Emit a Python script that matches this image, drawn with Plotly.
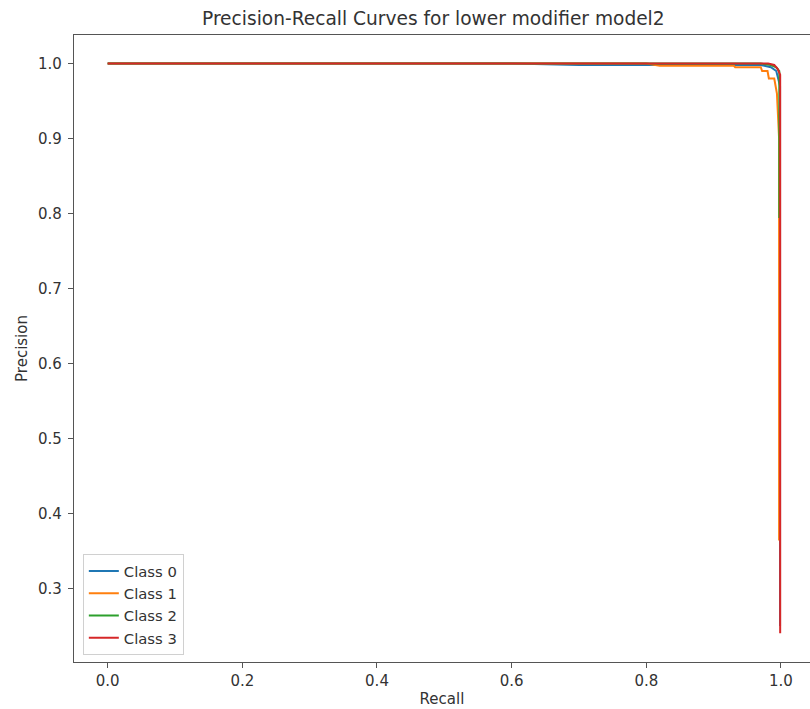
import plotly.graph_objects as go

classes = ["Class 0", "Class 1", "Class 2", "Class 3"]
colors = ["#1f77b4", "#ff7f0e", "#2ca02c", "#d62728"]

recall_0 = [0.0, 0.60, 0.70, 0.97, 0.985, 0.993, 0.9986, 0.9986]
precision_0 = [1.0, 1.0, 0.998, 0.998, 0.995, 0.990, 0.970, 0.25]

recall_1 = [0.0, 0.80, 0.82, 0.93, 0.932, 0.97, 0.972, 0.98, 0.982, 0.990, 0.994, 0.9972, 0.9972]
precision_1 = [1.0, 1.0, 0.997, 0.997, 0.995, 0.995, 0.990, 0.990, 0.980, 0.980, 0.960, 0.900, 0.364]

recall_2 = [0.0, 0.97, 0.985, 0.993, 0.9975, 0.9975]
precision_2 = [1.0, 1.0, 0.998, 0.995, 0.99, 0.794]

recall_3 = [0.0, 0.981, 0.99, 0.995, 0.9988, 0.9988]
precision_3 = [1.0, 1.0, 0.998, 0.993, 0.985, 0.2404]

recalls = [recall_0, recall_1, recall_2, recall_3]
precisions = [precision_0, precision_1, precision_2, precision_3]

fig = go.Figure()
for name, c, r, p in zip(classes, colors, recalls, precisions):
    fig.add_trace(go.Scatter(x=r, y=p, mode="lines", name=name,
                             line=dict(color=c, width=2)))

font = "DejaVu Sans, sans-serif"
txt = "#333333"
fig.update_layout(
    width=810, height=709,
    margin=dict(l=74, r=0, t=35, b=47, autoexpand=False),
    paper_bgcolor="white", plot_bgcolor="white",
    font=dict(family=font, size=15, color=txt),
    showlegend=True,
    legend=dict(x=0.012, y=0.0112, xanchor="left", yanchor="bottom",
                bgcolor="rgba(255,255,255,0.8)", bordercolor="#d0d0d0", borderwidth=1,
                font=dict(size=14.8, color=txt), tracegroupgap=0),
    annotations=[
        dict(text="Precision-Recall Curves for lower modifier model2", x=0.4878, xref="paper",
             y=1.0, yref="paper", yanchor="bottom", yshift=4, showarrow=False,
             font=dict(size=18.6, color=txt)),
    ],
)
fig.update_xaxes(range=[-0.05, 1.0431], tickvals=[0, 0.2, 0.4, 0.6, 0.8, 1.0],
                 ticktext=["0.0", "0.2", "0.4", "0.6", "0.8", "1.0"],
                 showgrid=False, zeroline=False, showline=True, linecolor="#555555",
                 linewidth=1.2, mirror=True, ticks="outside", ticklen=5, tickcolor="#555555",
                 automargin=False,
                 title=dict(text="Recall", font=dict(size=15, color=txt), standoff=4))
fig.update_yaxes(range=[0.202, 1.038], tickvals=[0.3, 0.4, 0.5, 0.6, 0.7, 0.8, 0.9, 1.0],
                 ticktext=["0.3", "0.4", "0.5", "0.6", "0.7", "0.8", "0.9", "1.0"],
                 showgrid=False, zeroline=False, showline=True, linecolor="#555555",
                 linewidth=1.2, mirror=False, ticks="outside", ticklen=5, tickcolor="#555555",
                 automargin=False, ticklabelstandoff=3,
                 title=dict(text="Precision", font=dict(size=15, color=txt), standoff=6))

fig.write_html("out.html", config={"displayModeBar": False},
               post_script="document.body.style.margin='0';document.body.style.overflow='hidden';")
